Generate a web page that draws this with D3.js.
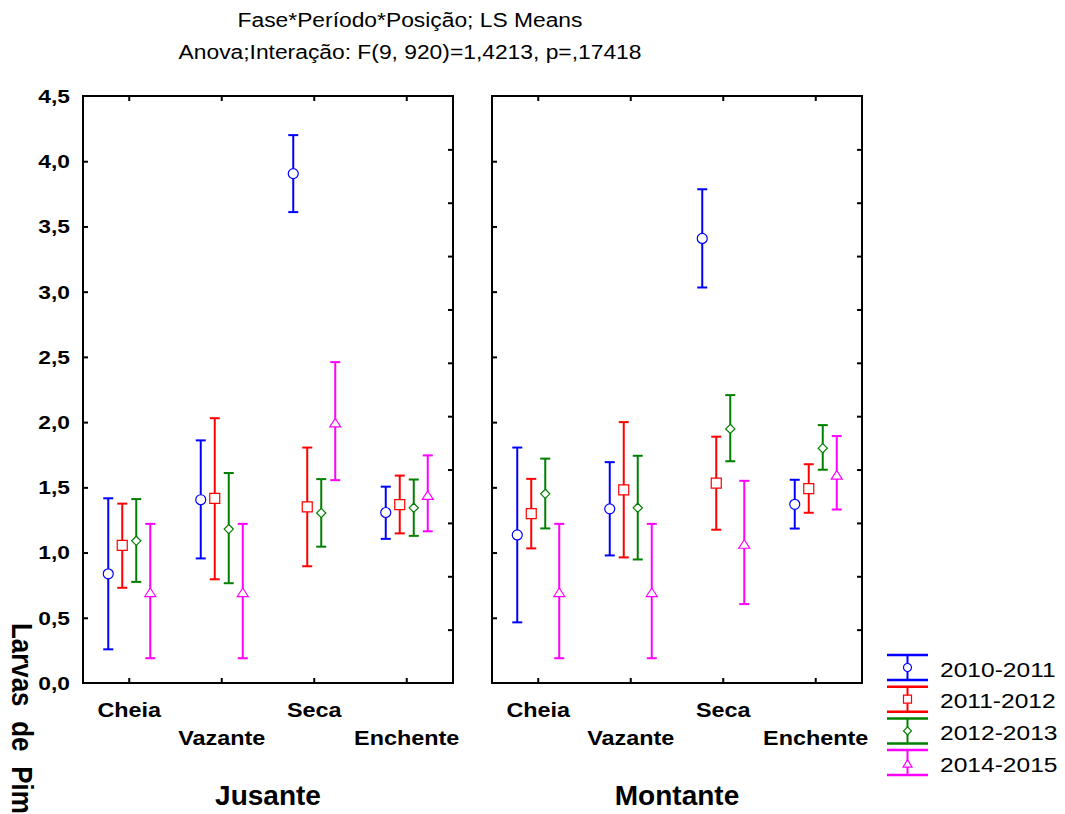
<!DOCTYPE html>
<html>
<head>
<meta charset="utf-8">
<script src="https://cdn.jsdelivr.net/npm/d3@7"></script>
<style>
  html, body { margin: 0; padding: 0; background: #fff; }
  svg { display: block; font-family: Arial, "Liberation Sans", sans-serif; }
</style>
</head>
<body>
<svg id="chart" width="1065" height="814"></svg>
<script>
// ---------------- data ----------------
const titleLines = ["Fase*Período*Posição; LS Means", "Anova;Interação: F(9, 920)=1,4213, p=,17418"];
const yLabel = "Larvas de Pim";
const positions = ["Jusante", "Montante"];
const phases = ["Cheia", "Vazante", "Seca", "Enchente"];
const periods = ["2010-2011", "2011-2012", "2012-2013", "2014-2015"];
const yTicks = [0, 0.5, 1, 1.5, 2, 2.5, 3, 3.5, 4, 4.5];

// values per period: Jusante (Cheia, Vazante, Seca, Enchente), Montante (Cheia, Vazante, Seca, Enchente)
const mean2010 = [0.837, 1.405, 3.905, 1.307, 1.135, 1.335, 3.408, 1.370];
const low2010  = [0.258, 0.955, 3.610, 1.105, 0.465, 0.978, 3.032, 1.184];
const high2010 = [1.416, 1.860, 4.200, 1.505, 1.805, 1.693, 3.785, 1.558];

const mean2011 = [1.055, 1.415, 1.350, 1.368, 1.298, 1.480, 1.532, 1.490];
const low2011  = [0.730, 0.795, 0.895, 1.147, 1.032, 0.963, 1.175, 1.305];
const high2011 = [1.375, 2.030, 1.805, 1.590, 1.565, 2.000, 1.888, 1.677];

const mean2012 = [1.090, 1.180, 1.303, 1.343, 1.450, 1.343, 1.948, 1.800];
const low2012  = [0.775, 0.765, 1.045, 1.128, 1.185, 0.947, 1.700, 1.635];
const high2012 = [1.410, 1.610, 1.563, 1.560, 1.720, 1.742, 2.207, 1.977];

const mean2014 = [0.705, 0.705, 2.005, 1.450, 0.705, 0.705, 1.075, 1.605];
const low2014  = [0.190, 0.190, 1.555, 1.163, 0.190, 0.190, 0.605, 1.330];
const high2014 = [1.220, 1.220, 2.460, 1.745, 1.220, 1.220, 1.550, 1.893];

const seriesMeans = [mean2010, mean2011, mean2012, mean2014];
const seriesLows = [low2010, low2011, low2012, low2014];
const seriesHighs = [high2010, high2011, high2012, high2014];

// ---------------- style ----------------
const colors = ["#0000FF", "#FF0000", "#008000", "#FF00FF"];
const shapes = ["circle", "square", "diamond", "triangle"];

const svg = d3.select("#chart");
const plotTop = 96, plotBottom = 683;
const plotLeft = 83, plotRight = 862;

const y = d3.scaleLinear().domain([0, 4.5]).range([plotBottom, plotTop]);
const yRight = d3.scaleLinear().domain([0, 11]).range([plotBottom, plotTop]);
const panel = d3.scaleBand().domain(positions).range([plotLeft, plotRight]).paddingInner(39 / 409).paddingOuter(0);
const bw = panel.bandwidth();
const xPhase = d3.scaleBand().domain(phases).range([0, bw]).padding(0);
const xOff = d3.scalePoint().domain(periods).range([-21, 21]);

// symbol paths
function markerPath(shape) {
  const p = d3.path();
  if (shape === "circle") { p.moveTo(5, 0); p.arc(0, 0, 5, 0, 2 * Math.PI); }
  else if (shape === "square") { p.rect(-5, -5, 10, 10); }
  else if (shape === "diamond") { p.moveTo(0, -4.6); p.lineTo(4.6, 0); p.lineTo(0, 4.6); p.lineTo(-4.6, 0); p.closePath(); }
  else { p.moveTo(0, -3); p.lineTo(5.5, 5.5); p.lineTo(-5.5, 5.5); p.closePath(); }
  return p.toString();
}
function legendMarkerPath(shape) {
  const p = d3.path();
  if (shape === "circle") { p.moveTo(4, 0); p.arc(0, 0, 4, 0, 2 * Math.PI); }
  else if (shape === "square") { p.rect(-4, -4, 8, 8); }
  else if (shape === "diamond") { p.moveTo(0, -4); p.lineTo(4, 0); p.lineTo(0, 4); p.lineTo(-4, 0); p.closePath(); }
  else { p.moveTo(0, -3); p.lineTo(4.5, 4.5); p.lineTo(-4.5, 4.5); p.closePath(); }
  return p.toString();
}

// ---------------- title ----------------
const titleSX = 1.17;
titleLines.forEach((t, i) => {
  svg.append("text")
    .attr("transform", `translate(410,${27 + i * 32}) scale(${titleSX},1)`)
    .attr("text-anchor", "middle")
    .attr("font-size", "19.5px")
    .attr("fill", "#000")
    .text(t);
});

// ---------------- panels ----------------
positions.forEach((pos, pi) => {
  const g = svg.append("g").attr("transform", `translate(${panel(pos)},0)`);

  const axisStyle = sel => {
    sel.select(".domain").remove();
    sel.selectAll(".tick line").attr("stroke", "#000").attr("stroke-width", 2);
    sel.selectAll(".tick text").remove();
  };

  g.append("g").call(d3.axisLeft(y).tickValues(yTicks.slice(1, -1)).tickSizeInner(-5).tickSizeOuter(0)).call(axisStyle);
  g.append("g").attr("transform", `translate(${bw},0)`)
    .call(d3.axisRight(yRight).tickValues(d3.range(1, 11)).tickSizeInner(-5).tickSizeOuter(0)).call(axisStyle);
  g.append("g").attr("transform", `translate(0,${plotTop})`)
    .call(d3.axisTop(xPhase).tickSizeInner(-5).tickSizeOuter(0)).call(axisStyle);
  g.append("g").attr("transform", `translate(0,${plotBottom})`)
    .call(d3.axisBottom(xPhase).tickSizeInner(-5).tickSizeOuter(0)).call(axisStyle);

  // frame
  g.append("rect")
    .attr("x", 0).attr("y", plotTop).attr("width", bw).attr("height", plotBottom - plotTop)
    .attr("fill", "none").attr("stroke", "#000").attr("stroke-width", 2);

  // y tick labels (left panel only)
  if (pi === 0) {
    yTicks.forEach(t => {
      g.append("text")
        .attr("transform", `translate(-13,${y(t)}) scale(1.2,1)`)
        .attr("dy", "0.36em")
        .attr("text-anchor", "end")
        .attr("font-size", "19px")
        .attr("font-weight", "bold")
        .text(d3.format(".1f")(t).replace(".", ","));
    });
  }

  // category labels
  phases.forEach((ph, i) => {
    g.append("text")
      .attr("transform", `translate(${xPhase(ph) + xPhase.bandwidth() / 2},${i % 2 === 0 ? 716.5 : 745}) scale(1.17,1)`)
      .attr("text-anchor", "middle")
      .attr("font-size", "20px")
      .attr("font-weight", "bold")
      .text(ph);
  });

  // panel label
  g.append("text")
    .attr("x", bw / 2).attr("y", 805)
    .attr("text-anchor", "middle")
    .attr("font-size", "28px")
    .attr("font-weight", "bold")
    .text(pos);

  // error bars + markers
  periods.forEach((per, si) => {
    phases.forEach((ph, ci) => {
      const idx = pi * phases.length + ci;
      const cx = xPhase(ph) + xPhase.bandwidth() / 2 + xOff(per);
      const m = seriesMeans[si][idx], lo = seriesLows[si][idx], hi = seriesHighs[si][idx];
      const eg = g.append("g").attr("stroke", colors[si]).attr("stroke-width", 2);
      eg.append("line").attr("x1", cx).attr("x2", cx).attr("y1", y(lo)).attr("y2", y(hi));
      eg.append("line").attr("x1", cx - 5).attr("x2", cx + 5).attr("y1", y(lo)).attr("y2", y(lo));
      eg.append("line").attr("x1", cx - 5).attr("x2", cx + 5).attr("y1", y(hi)).attr("y2", y(hi));
      g.append("path")
        .attr("d", markerPath(shapes[si]))
        .attr("transform", `translate(${cx},${y(m)})`)
        .attr("fill", "#fff")
        .attr("stroke", colors[si])
        .attr("stroke-width", 1.2);
    });
  });
});

// ---------------- y label ----------------
svg.append("text")
  .attr("transform", "translate(12,623) rotate(90) scale(1.08,1.2)")
  .attr("font-size", "24px")
  .attr("font-weight", "bold")
  .attr("word-spacing", "7px")
  .text(yLabel);

// ---------------- legend ----------------
periods.forEach((per, i) => {
  const y0 = 655 + i * 31.7;
  const lg = svg.append("g").attr("stroke", colors[i]).attr("stroke-width", 2.5);
  lg.append("line").attr("x1", 887).attr("x2", 928).attr("y1", y0).attr("y2", y0);
  lg.append("line").attr("x1", 887).attr("x2", 928).attr("y1", y0 + 25).attr("y2", y0 + 25);
  lg.append("line").attr("x1", 907.5).attr("x2", 907.5).attr("y1", y0).attr("y2", y0 + 25).attr("stroke-width", 2);
  svg.append("path")
    .attr("d", legendMarkerPath(shapes[i]))
    .attr("transform", `translate(907.5,${y0 + 12.5})`)
    .attr("fill", "#fff").attr("stroke", colors[i]).attr("stroke-width", 1.2);
  svg.append("text")
    .attr("transform", `translate(940,${y0 + 21.7}) scale(1.17,1)`)
    .attr("font-size", "21px")
    .text(per);
});
</script>
</body>
</html>
